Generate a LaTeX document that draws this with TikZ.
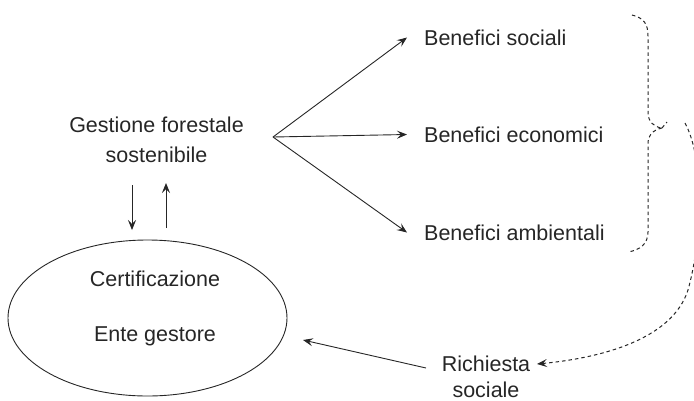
\documentclass[tikz,border=0pt]{standalone}
\usepackage{fontspec}
\setmainfont{Liberation Sans}
\usetikzlibrary{arrows.meta,shapes.geometric,calc}
\begin{document}
\begin{tikzpicture}[x=1pt,y=-1pt,
  lbl/.style={font=\fontsize{21.5}{30}\selectfont, inner sep=0pt, text=black!85},
  tip/.style={-{Stealth[length=10pt,width=8pt,inset=4pt]}},
  arr/.style={tip, line width=0.9pt, draw=black!85},
  dsh/.style={dash pattern=on 3.5pt off 3pt, line width=1pt, draw=black!85}]
\useasboundingbox (0,0) rectangle (694,400);

% main concept and its outcomes (base anchor = last line of a two-line node)
\node[lbl, align=center, anchor=base] (gfs) at (156.5,162) {Gestione forestale\\sostenibile};
\node[lbl, anchor=base west] (bs) at (424,45) {Benefici sociali};
\node[lbl, anchor=base west] (be) at (424,142) {Benefici economici};
\node[lbl, anchor=base west] (ba) at (424,240) {Benefici ambientali};
\coordinate (fan) at (273,137);
\draw[arr] (fan) -- ($(bs.base west)+(-17,-7.5)$);
\draw[arr] (fan) -- ($(be.base west)+(-17,-7.5)$);
\draw[arr] (fan) -- ($(ba.base west)+(-17,-7.5)$);

% certification ellipse
\node[draw=black!85, ellipse, minimum width=279pt, minimum height=156pt, inner sep=0pt, line width=0.9pt] (cert) at (147.5,318) {};
\node[lbl, anchor=base] (certt) at (155,286) {Certificazione};
\node[lbl, anchor=base] (ente) at (155,341) {Ente gestore};

% two-way link between management and certification
\coordinate (d1) at (132,185);
\coordinate (u1) at (166,228);
\draw[arr] (d1) -- (132,230);
\draw[arr] (u1) -- (166,183);

% social demand
\node[lbl, font=\fontsize{21.5}{26}\selectfont, align=center, anchor=base] (rich) at (486,397) {Richiesta\\sociale};
\coordinate (rs) at (426,368);
\coordinate (ce) at (303,340);
\draw[arr] (rs) -- (ce);

% dashed brace grouping the benefits
\draw[dsh] (632,15) .. controls (644,18) and (648,24) .. (648,36) -- (648,112)
  .. controls (648,122) and (654,127) .. (662,128);
\draw[dsh] (662,128) .. controls (653,130) and (648,135) .. (648,144) -- (648,232)
  .. controls (648,244) and (640,250) .. (628,252);
\draw[dsh] (662,128) -- (667,122);

% dashed feedback to the social demand
\coordinate (fb) at (685,123);
\draw[dsh, tip] (fb) .. controls (705,160) and (702,240) .. (688,290)
  .. controls (672,340) and (600,358) .. (537,364);
\end{tikzpicture}
\end{document}
